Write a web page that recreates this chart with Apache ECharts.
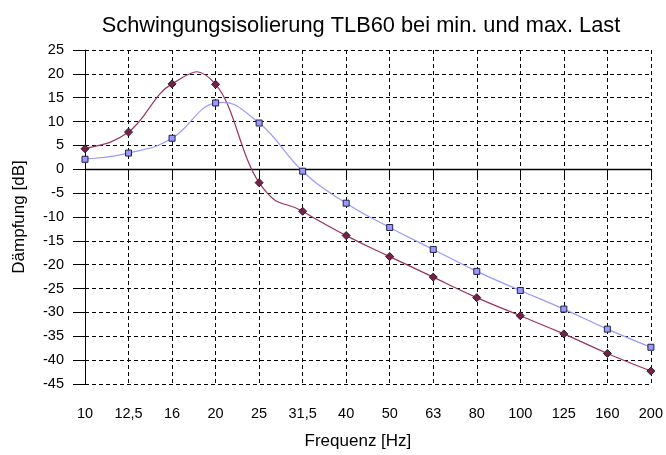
<!DOCTYPE html>
<html>
<head>
<meta charset="utf-8">
<script src="https://cdn.jsdelivr.net/npm/echarts@6/dist/echarts.min.js"></script>
<style>html,body{margin:0;padding:0;background:#fff}#c{width:666px;height:455px}</style>
</head>
<body>
<div id="c"></div>
<script>
const categories = ['10','12,5','16','20','25','31,5','40','50','63','80','100','125','160','200'];
const maxLast = [4.3, 7.8, 17.9, 17.8, -2.8, -8.8, -13.9, -18.3, -22.6, -26.9, -30.7, -34.5, -38.6, -42.3];
const minLast = [2.1, 3.4, 6.5, 13.9, 9.7, -0.4, -7.1, -12.2, -16.8, -21.4, -25.4, -29.3, -33.5, -37.3];
const yMin = -45, yMax = 25, yStep = 5;

const font = 'Liberation Sans, Arial, sans-serif';
const TENSION = 0.22;

function splineSeries(values, color) {
  return {
    type: 'custom',
    data: values.map((v, i) => [i, v]),
    encode: {x: 0, y: 1},
    silent: true,
    z: 2,
    renderItem: function (params, api) {
      const i = params.dataIndex;
      const n = values.length;
      if (i >= n - 1) return null;
      const p = (j) => api.coord([Math.max(0, Math.min(n - 1, j)), values[Math.max(0, Math.min(n - 1, j))]]);
      const p0 = p(i - 1), p1 = p(i), p2 = p(i + 1), p3 = p(i + 2);
      return {
        type: 'bezierCurve',
        shape: {
          x1: p1[0], y1: p1[1], x2: p2[0], y2: p2[1],
          cpx1: p1[0] + (p2[0] - p0[0]) * TENSION,
          cpy1: p1[1] + (p2[1] - p0[1]) * TENSION,
          cpx2: p2[0] - (p3[0] - p1[0]) * TENSION,
          cpy2: p2[1] - (p3[1] - p1[1]) * TENSION
        },
        style: {stroke: color, lineWidth: 1.2, fill: null}
      };
    }
  };
}

const chart = echarts.init(document.getElementById('c'), null, {renderer: 'canvas'});
chart.setOption({
  animation: false,
  backgroundColor: '#fff',
  title: {
    text: 'Schwingungsisolierung TLB60 bei min. und max. Last',
    left: 356, top: 10, textAlign: 'center',
    textStyle: {fontFamily: font, fontSize: 21.8, fontWeight: 'normal', color: '#000'}
  },
  grid: {left: 85, right: 15, top: 50, bottom: 70},
  xAxis: {
    type: 'category', data: categories, boundaryGap: false,
    name: 'Frequenz [Hz]', nameLocation: 'middle', nameGap: 49,
    nameTextStyle: {fontFamily: font, fontSize: 17, color: '#000', padding: [0, 20, 0, 0]},
    axisLine: {lineStyle: {color: '#000', width: 1}},
    axisTick: {show: true, length: 11, alignWithLabel: true, lineStyle: {color: '#000'}},
    axisLabel: {fontFamily: font, fontSize: 14.5, color: '#000', margin: 22, interval: 0},
    splitLine: {show: true, lineStyle: {color: '#000', type: [4, 3], width: 1}}
  },
  yAxis: {
    type: 'value', min: yMin, max: yMax, interval: yStep,
    name: 'Dämpfung [dB]', nameLocation: 'middle', nameGap: 57,
    nameTextStyle: {fontFamily: font, fontSize: 17, color: '#000'},
    axisLine: {show: true, lineStyle: {color: '#000', width: 1}},
    axisTick: {show: true, length: 12, lineStyle: {color: '#000'}},
    axisLabel: {fontFamily: font, fontSize: 14.5, color: '#000', margin: 21},
    splitLine: {show: true, lineStyle: {color: '#000', type: [4, 3], width: 1}}
  },
  series: [
    splineSeries(maxLast, '#993366'),
    splineSeries(minLast, '#9999ff'),
    {
      name: 'max. Last', type: 'line', data: maxLast,
      symbol: 'diamond', symbolSize: 8,
      lineStyle: {width: 0, opacity: 0},
      itemStyle: {color: '#7a1e4c', borderColor: '#222', borderWidth: 1},
      z: 4,
      markLine: {
        silent: true, symbol: 'none', label: {show: false},
        lineStyle: {color: '#000', type: 'solid', width: 1.3},
        data: [{yAxis: 0}], z: 1
      }
    },
    {
      name: 'min. Last', type: 'line', data: minLast,
      symbol: 'rect', symbolSize: 6,
      lineStyle: {width: 0, opacity: 0},
      itemStyle: {color: '#9999ff', borderColor: '#222244', borderWidth: 1},
      z: 5
    }
  ]
});
</script>
</body>
</html>
